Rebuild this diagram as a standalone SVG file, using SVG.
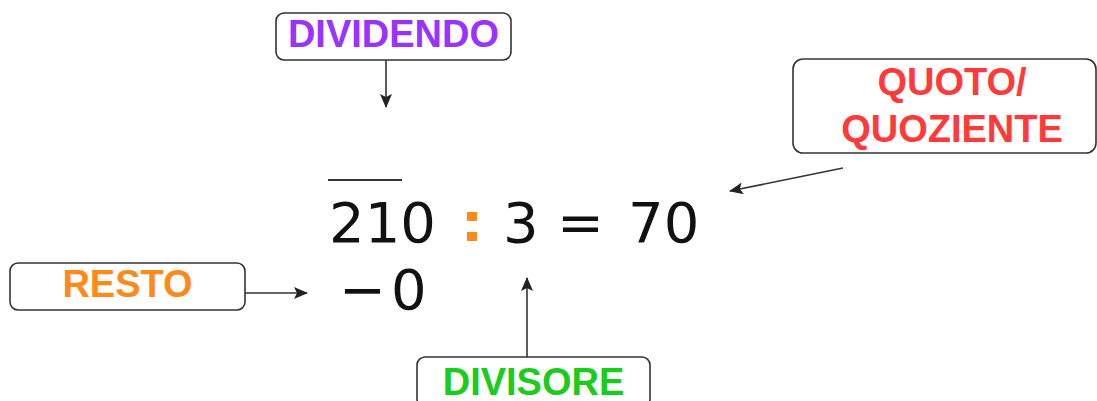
<svg xmlns="http://www.w3.org/2000/svg" width="1097" height="401" viewBox="0 0 1097 401">
<style>
.box{fill:#fff;stroke:#333;stroke-width:1.6}
.lbl{font-family:"Liberation Sans",Arial,sans-serif;font-weight:bold;font-size:38px;text-anchor:middle}
.math{font-family:"DejaVu Sans",Verdana,sans-serif;font-size:56px;fill:#111}
.conn{stroke:#333;stroke-width:1.6;fill:none;marker-end:url(#ah)}
</style>
<defs>
<marker id="ah" markerUnits="userSpaceOnUse" markerWidth="14" markerHeight="12" viewBox="0 0 14 12" refX="13" refY="6" orient="auto">
<path d="M0,0 L14,6 L0,12 L3,6 Z" fill="#222"/>
</marker>
</defs>
<rect width="1097" height="401" fill="#fff"/>
<g id="connectors">
<line class="conn" x1="386" y1="60" x2="386" y2="107"/>
<line class="conn" x1="843" y1="168" x2="730" y2="191"/>
<line class="conn" x1="245" y1="293" x2="307" y2="293"/>
<line class="conn" x1="527" y1="357" x2="527" y2="278"/>
</g>
<g id="dividendo">
<rect class="box" x="276" y="13" width="235" height="47" rx="8"/>
<text class="lbl" x="393.5" y="47" fill="#9933ff">DIVIDENDO</text>
</g>
<g id="quoziente">
<rect class="box" x="793" y="59" width="303" height="94" rx="10"/>
<text class="lbl" x="952" y="95" fill="#ff3a3a">QUOTO/</text>
<text class="lbl" x="952" y="142" fill="#ff3a3a">QUOZIENTE</text>
</g>
<g id="resto">
<rect class="box" x="10" y="263" width="235" height="47" rx="8"/>
<text class="lbl" x="127.5" y="297" fill="#ff8a1a">RESTO</text>
</g>
<g id="divisore">
<rect class="box" x="417" y="357" width="233" height="50" rx="8"/>
<text class="lbl" x="533.5" y="395" fill="#1ccc1c">DIVISORE</text>
</g>
<g id="operazione">
<line x1="328" y1="180" x2="402" y2="180" stroke="#333" stroke-width="2"/>
<text class="math" x="329" y="242">210</text>
<rect x="467" y="212" width="10" height="9" fill="#ff8a1a"/>
<rect x="467" y="232" width="10" height="9" fill="#ff8a1a"/>
<text class="math" x="503" y="242">3</text>
<text class="math" x="557" y="242">=</text>
<text class="math" x="628" y="242">70</text>
<text class="math" x="339" y="309">−</text>
<text class="math" x="391" y="309">0</text>
</g>
</svg>
